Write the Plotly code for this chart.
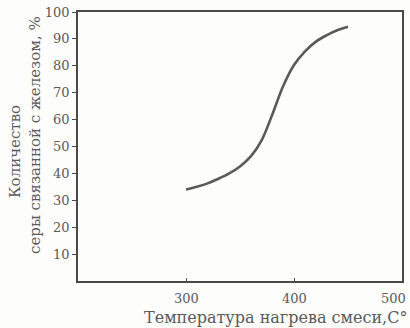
import plotly.graph_objects as go

# Heating temperature of the mixture, °C, and the share of sulphur bound to iron, %
temperature = [300, 310, 320, 330, 340, 350, 360, 370, 380, 390, 400, 410, 420, 430, 440, 450]
bound_sulphur = [34.0, 35.0, 36.3, 38.0, 40.0, 42.6, 46.3, 52.3, 62.0, 72.5, 80.3, 85.3,
                 88.9, 91.3, 93.2, 94.5]

x_ticks = [300, 400, 500]
x_tick_text = ["300", "400", "500"]
y_ticks = [10, 20, 30, 40, 50, 60, 70, 80, 90, 100]
y_tick_text = [str(v) for v in y_ticks]

x_title = "Температура нагрева смеси,С°"
y_title_lines = ["Количество", "серы связанной с железом, %"]

INK = "#4a4a4a"
TEXT = "#5a5a5a"
FONT = "DejaVu Serif"

fig = go.Figure()
fig.add_trace(go.Scatter(
    x=temperature, y=bound_sulphur, mode="lines",
    line=dict(color="#5a5a58", width=2.6, shape="spline", smoothing=1.0),
    hoverinfo="skip", showlegend=False,
))

fig.update_layout(
    width=410, height=328,
    margin=dict(l=78, r=8, t=12, b=47),
    paper_bgcolor="#fdfdfb", plot_bgcolor="#fdfdfb",
    template="none",
    font=dict(family=FONT, color=TEXT, size=13),
    xaxis=dict(
        range=[200, 500], tickvals=x_ticks, showticklabels=False,
        showgrid=False, zeroline=False, automargin=False,
        showline=True, mirror=True, linecolor=INK, linewidth=1.5,
        ticks="inside", ticklen=3, tickcolor=INK,
    ),
    yaxis=dict(
        range=[0, 100], tickvals=y_ticks, ticktext=y_tick_text,
        showgrid=False, zeroline=False, automargin=False,
        showline=True, mirror=True, linecolor=INK, linewidth=1.5,
        ticks="outside", ticklen=4, tickcolor=INK,
        tickfont=dict(family=FONT, size=13, color=TEXT),
    ),
)

# x tick labels placed on the axis scale; the last one is kept inside the page edge
for i, (val, txt) in enumerate(zip(x_ticks, x_tick_text)):
    last = i == len(x_ticks) - 1
    fig.add_annotation(
        text=txt, x=val, xref="x", y=-(298 - 281) / 269, yref="paper",
        xanchor="right" if last else "center", xshift=6 if last else 0,
        yanchor="middle", showarrow=False,
        font=dict(family=FONT, size=13, color=TEXT),
    )

# axis titles
fig.add_annotation(
    text=x_title, xref="paper", yref="paper",
    x=(275 - 78) / 324, y=-(318 - 281) / 269,
    xanchor="center", yanchor="middle", showarrow=False,
    font=dict(family=FONT, size=16, color=TEXT),
)
for line, px, py in zip(y_title_lines, [15, 35], [152, 135]):
    fig.add_annotation(
        text=line, xref="paper", yref="paper",
        x=(px - 78) / 324, y=(281 - py) / 269,
        xanchor="center", yanchor="middle", textangle=-90, showarrow=False,
        font=dict(family=FONT, size=15, color=TEXT),
    )

fig.write_html("out.html")
